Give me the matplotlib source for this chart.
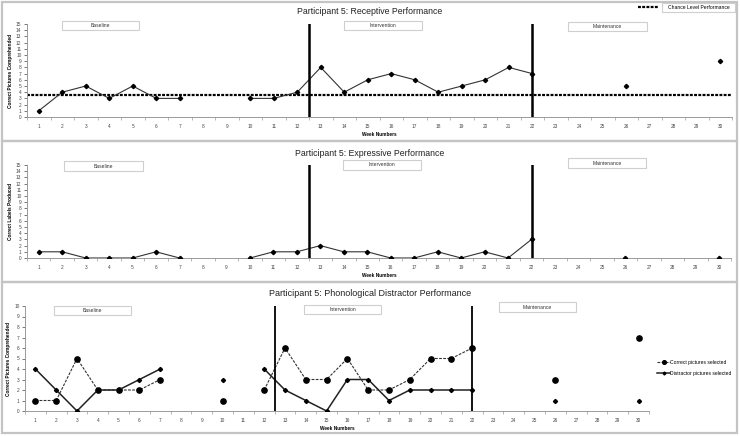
import numpy as np
import matplotlib.pyplot as plt
from matplotlib.patches import Rectangle

plt.rcParams['font.family'] = ['Liberation Sans', 'DejaVu Sans']

weeks = np.arange(1, 31)
N = None
receptive = [1, 4, 5, 3, 5, 3, 3, N, N, 3, 3, 4, 8, 4, 6, 7, 6, 4, 5, 6, 8, 7, N, N, N, 5, N, N, N, 9]
expressive = [1, 1, 0, 0, 0, 1, 0, N, N, 0, 1, 1, 2, 1, 1, 0, 0, 1, 0, 1, 0, 3, N, N, N, 0, N, N, N, 0]
correct = [1, 1, 5, 2, 2, 2, 3, N, N, 1, N, 2, 6, 3, 3, 5, 2, 2, 3, 5, 5, 6, N, N, N, 3, N, N, N, 7]
distractor = [4, 2, 0, 2, 2, 3, 4, N, N, 3, N, 4, 2, 1, 0, 3, 3, 1, 2, 2, 2, 2, N, N, N, 1, N, N, N, 1]
chance = 3.5
phase_lines = [12.5, 22]


def arr(v):
    return np.array([np.nan if x is None else x for x in v], dtype=float)


W, H = 740, 436
fig = plt.figure(figsize=(7.4, 4.36), dpi=100)


def fx(x):
    return x / W


def fy(y):
    return 1 - y / H


def frame(y0, y1):
    fig.add_artist(Rectangle((fx(2), fy(y1)), fx(735), (y1 - y0) / H,
                             transform=fig.transFigure, fill=False,
                             ec='#c4c4c4', lw=1.6))


def phase_box(x0, x1, y0, y1, label):
    fig.add_artist(Rectangle((fx(x0), fy(y1)), (x1 - x0) / W, (y1 - y0) / H,
                             transform=fig.transFigure, fc='white',
                             ec='#cfcfcf', lw=0.8))
    fig.text(fx((x0 + x1) / 2), fy((y0 + y1) / 2), label, ha='center',
             va='center', fontsize=3.6, color='#333333')


def make_axes(left, right, top, bottom, ymax, ylabel):
    ax = fig.add_axes([fx(left), fy(bottom), (right - left) / W, (bottom - top) / H])
    ax.set_xlim(0.5, 30.5)
    ax.set_ylim(0, ymax)
    for s in ['top', 'right']:
        ax.spines[s].set_visible(False)
    for s in ['left', 'bottom']:
        ax.spines[s].set_color('#9a9a9a')
        ax.spines[s].set_linewidth(0.7)
    ax.set_xticks(weeks)
    ax.set_xticklabels([str(w) for w in weeks])
    ax.set_xticks(np.arange(0.5, 31, 1), minor=True)
    ax.tick_params(axis='x', which='major', length=0, pad=5, labelsize=3.4, colors='#444444')
    ax.tick_params(axis='x', which='minor', length=2, width=0.5, color='#9a9a9a')
    ax.set_yticks(np.arange(0, ymax + 1))
    ax.tick_params(axis='y', length=2, width=0.5, pad=2, labelsize=3.4,
                   colors='#444444')
    ax.set_ylabel(ylabel, fontsize=3.4, fontweight='bold', labelpad=2)
    ax.set_xlabel('Week Numbers', fontsize=3.4, fontweight='bold', labelpad=2)
    ax.patch.set_alpha(0)
    return ax


# ---- panel 1: receptive
frame(2, 141)
ax1 = make_axes(27, 732, 24, 117, 15, 'Correct Pictures Comprehended')
ch = ax1.axhline(chance, color='black', lw=1.6, ls=(0, (1.3, 0.6)), zorder=2)
ax1.plot(weeks, arr(receptive), color='#333333', lw=0.8, marker='D', ms=2.2,
         mfc='black', mec='black', zorder=3)
for x in phase_lines:
    ax1.axvline(x, color='black', lw=1.8, zorder=4)
fig.text(0.5, fy(12), 'Participant 5: Receptive Performance', ha='center',
         va='center', fontsize=6.3, color='#222222')
phase_box(62, 139, 21, 30, 'Baseline')
phase_box(344, 422, 21, 30, 'Intervention')
phase_box(568, 647, 22, 31, 'Maintenance')
fig.add_artist(Rectangle((fx(662), fy(12)), 73 / W, 9 / H, transform=fig.transFigure,
                         fc='white', ec='#cfcfcf', lw=0.8, zorder=-1))
ax1.legend([ch], ['Chance Level Performance'], loc='center left',
           bbox_to_anchor=(fx(638), fy(7.5)), bbox_transform=fig.transFigure,
           frameon=False, fontsize=3.6, handlelength=4.2, handletextpad=1.7,
           borderpad=0, borderaxespad=0)

# ---- panel 2: expressive
frame(141, 282)
ax2 = make_axes(27, 731, 165, 258, 15, 'Correct Labels Produced')
ax2.plot(weeks, arr(expressive), color='#333333', lw=0.8, marker='D', ms=2.2,
         mfc='black', mec='black', zorder=3)
for x in phase_lines:
    ax2.axvline(x, color='black', lw=1.8, zorder=4)
fig.text(0.5, fy(153), 'Participant 5: Expressive Performance', ha='center',
         va='center', fontsize=6.3, color='#222222')
phase_box(64, 143, 161, 171, 'Baseline')
phase_box(343, 421, 160, 170, 'Intervention')
phase_box(568, 646, 158, 168, 'Maintenance')

# ---- panel 3: phonological distractor
frame(282, 433)
ax3 = make_axes(25, 649, 306, 411, 10, 'Correct Pictures Comprehended')
ax3.plot(weeks, arr(correct), color='#333333', lw=0.8, ls=(0, (2.5, 1.2)),
         marker='o', ms=3.8, mfc='black', mec='black', zorder=3,
         label='Correct pictures selected')
ax3.plot(weeks, arr(distractor), color='#222222', lw=1.1, marker='D', ms=2.1,
         mfc='black', mec='black', zorder=3, label='Distractor pictures selected')
for x in phase_lines:
    ax3.axvline(x, color='black', lw=1.3, zorder=4)
fig.text(0.5, fy(294), 'Participant 5: Phonological Distractor Performance',
         ha='center', va='center', fontsize=6.5, color='#222222')
phase_box(54, 131, 306, 315, 'Baseline')
phase_box(304, 381, 305, 314, 'Intervention')
phase_box(499, 576, 302, 312, 'Maintenance')
ax3.legend(loc='center left', bbox_to_anchor=(fx(657), fy(368)),
           bbox_transform=fig.transFigure, frameon=False, fontsize=3.6,
           handlelength=2.6, handletextpad=0.1, labelspacing=1.2,
           markerscale=0.7, borderpad=0, borderaxespad=0)

fig.savefig('out.png', dpi=100)
